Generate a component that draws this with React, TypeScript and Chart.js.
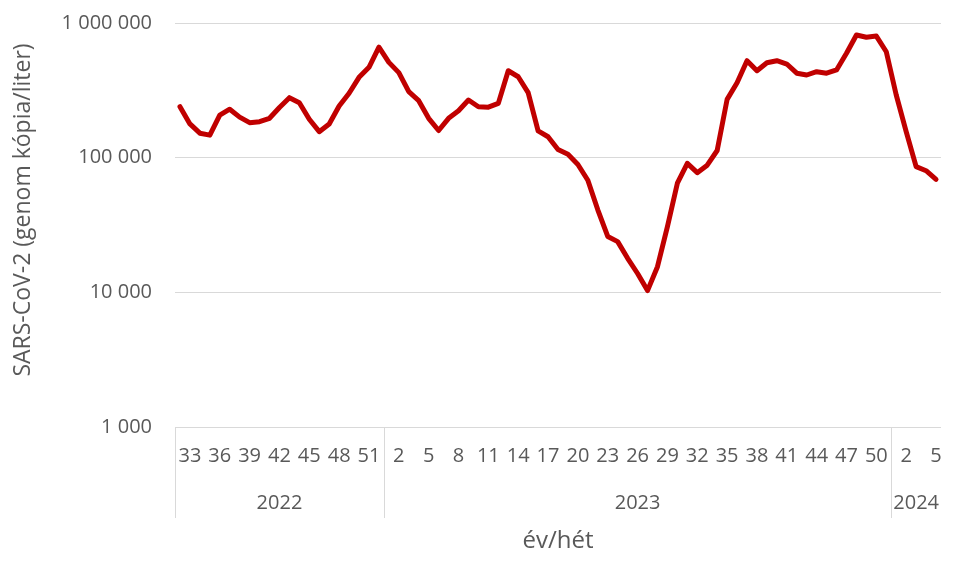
import React, { useEffect, useRef } from "react";
import { Chart, registerables } from "chart.js";

Chart.register(...registerables);

const weeks2022 = [32, 33, 34, 35, 36, 37, 38, 39, 40, 41, 42, 43, 44, 45, 46, 47, 48, 49, 50, 51, 52];
const weeks2023 = [1, 2, 3, 4, 5, 6, 7, 8, 9, 10, 11, 12, 13, 14, 15, 16, 17, 18, 19, 20, 21, 22, 23, 24, 25, 26, 27, 28, 29, 30, 31, 32, 33, 34, 35, 36, 37, 38, 39, 40, 41, 42, 43, 44, 45, 46, 47, 48, 49, 50, 51];
const weeks2024 = [1, 2, 3, 4, 5];
const years = ["2022", "2023", "2024"];

const values = [
  239000, 178000, 152000, 147000, 207000, 229000, 200000, 182000, 185000, 196000,
  236000, 279000, 256000, 193000, 156000, 178000, 242000, 301000, 395000, 469000,
  661000,
  510000, 428000, 309000, 265000, 196000, 159000, 196000, 223000, 268000, 239000,
  237000, 253000, 442000, 399000, 304000, 158000, 143000, 115000, 106000, 89000,
  68000, 41000, 26000, 23800, 17900, 13800, 10300, 15500, 30800, 64600,
  90800, 77400, 88000, 113000, 271000, 360000, 525000, 442000, 507000, 525000,
  496000, 424000, 411000, 435000, 424000, 448000, 596000, 815000, 783000, 800000,
  612000,
  292000, 156000, 85700, 80000, 69000,
];

const yTicks = [1000, 10000, 100000, 1000000];
const yTitle = "SARS-CoV-2 (genom kópia/liter)";

const FONT = "'Open Sans', 'Noto Sans', sans-serif";
const TEXT = "#595959";
const GRID = "#d9d9d9";

const groups = [weeks2022, weeks2023, weeks2024];
const labels = [...weeks2022, ...weeks2023, ...weeks2024].map(String);

const fmt = (v: number) => String(v).replace(/\B(?=(\d{3})+(?!\d))/g, " ");

const yearPlugin = {
  id: "yearGroups",
  afterDraw(chart: any) {
    const { ctx, chartArea, scales } = chart;
    const x = scales.x;
    const top = chartArea.bottom;
    const lineBottom = 518;
    ctx.save();
    ctx.strokeStyle = GRID;
    ctx.lineWidth = 1;
    let start = 0;
    const bounds: number[] = [chartArea.left];
    groups.forEach((g, gi) => {
      const end = start + g.length;
      if (gi < groups.length - 1) {
        bounds.push((x.getPixelForValue(end - 1) + x.getPixelForValue(end)) / 2);
      } else {
        bounds.push(chartArea.right);
      }
      start = end;
    });
    for (let i = 0; i < bounds.length - 1; i++) {
      const bx = Math.round(bounds[i]) + 0.5;
      ctx.beginPath();
      ctx.moveTo(bx, top);
      ctx.lineTo(bx, lineBottom);
      ctx.stroke();
    }
    ctx.fillStyle = TEXT;
    ctx.font = `20px ${FONT}`;
    ctx.textAlign = "center";
    ctx.textBaseline = "middle";
    years.forEach((yr, i) => {
      ctx.fillText(yr, (bounds[i] + bounds[i + 1]) / 2, 503);
    });
    // y-axis title
    ctx.save();
    ctx.translate(23, 210);
    ctx.rotate(-Math.PI / 2);
    ctx.font = `23px ${FONT}`;
    ctx.fillText(yTitle, 0, 0);
    ctx.restore();
    ctx.restore();
  },
};

export default function App() {
  const ref = useRef<HTMLCanvasElement | null>(null);
  useEffect(() => {
    if (!ref.current) return;
    const chart = new Chart(ref.current, {
      type: "line",
      data: {
        labels,
        datasets: [
          {
            data: values,
            borderColor: "#c00000",
            borderWidth: 5,
            pointRadius: 0,
            tension: 0,
            borderJoinStyle: "round",
            borderCapStyle: "round",
            fill: false,
          },
        ],
      },
      options: {
        animation: false,
        responsive: false,
        devicePixelRatio: 1,
        layout: { padding: { left: 0, top: 23, right: 16, bottom: 0 } },
        plugins: { legend: { display: false }, tooltip: { enabled: false } },
        scales: {
          x: {
            type: "category",
            offset: true,
            grid: { display: false, drawTicks: false },
            border: { display: false },
            ticks: {
              autoSkip: false,
              maxRotation: 0,
              minRotation: 0,
              padding: 17,
              color: TEXT,
              font: { family: FONT, size: 20 },
              callback: (_v: any, idx: number) => (idx % 3 === 1 ? labels[idx] : ""),
            },
            title: {
              display: true,
              text: "év/hét",
              color: TEXT,
              font: { family: FONT, size: 24 },
              padding: { top: 0, bottom: 20 },
            },
            afterFit: (s: any) => {
              s.height = 149;
              s.paddingLeft = 0;
              s.paddingRight = 0;
            },
          },
          y: {
            type: "logarithmic",
            min: 1000,
            max: 1000000,
            grid: { color: GRID, lineWidth: 1, drawTicks: false },
            border: { display: false },
            afterBuildTicks: (s: any) => {
              s.ticks = yTicks.map((v) => ({ value: v }));
            },
            ticks: {
              padding: 23,
              color: TEXT,
              font: { family: FONT, size: 20 },
              callback: (v: any) => fmt(Number(v)),
            },
            title: { display: false },
            afterFit: (s: any) => {
              s.width = 175;
              s.paddingTop = 0;
              s.paddingBottom = 0;
            },
          },
        },
      },
      plugins: [yearPlugin],
    } as any);
    return () => chart.destroy();
  }, []);
  return (
    <div style={{ position: "absolute", left: 0, top: 0, width: 957, height: 576, background: "#fff" }}>
      <canvas ref={ref} width={957} height={576} />
    </div>
  );
}
